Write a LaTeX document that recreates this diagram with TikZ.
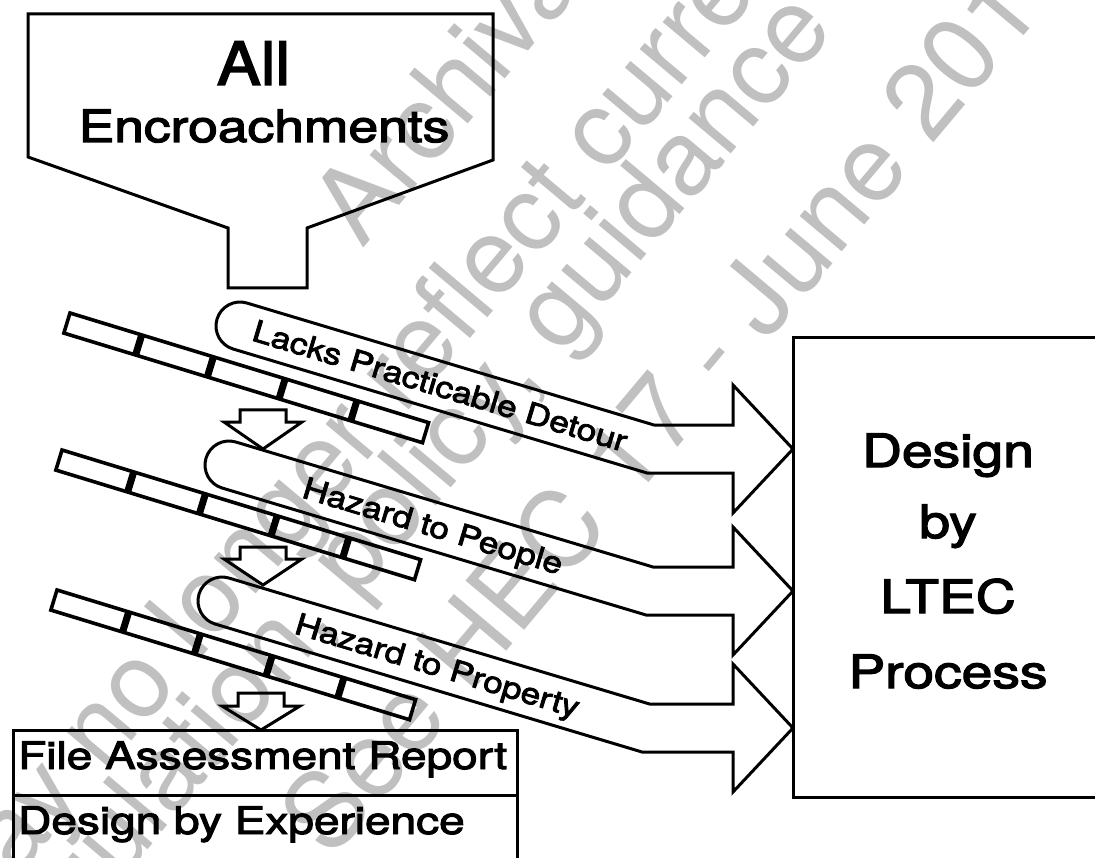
\documentclass[tikz,border=0pt]{standalone}
\usepackage{fontspec}
\setmainfont{TeX Gyre Heros}
\newfontfamily\heavyfont{TeX Gyre Heros}[FakeBold=2.5]
\usepackage{graphicx}
\definecolor{wm}{HTML}{C0C0C0}
\newcommand\myfs[1]{\fontsize{#1}{#1}\selectfont}
\begin{document}
\begin{tikzpicture}[x=1pt,y=-1pt,line join=miter,
  outline/.style={draw=black,line width=3pt},
  barbox/.style={draw=black,line width=3.6pt},
  bardiv/.style={draw=black,line width=7pt},
  lbl/.style={inner sep=0pt,text=black},
  bandlbl/.style={inner sep=0pt,anchor=base,rotate=-16.7,font=\heavyfont\myfs{30}},
  wmark/.style={text=wm,inner sep=0pt,anchor=base west,rotate=50,font=\myfs{105}}]
\path[use as bounding box] (0,0) rectangle (1095,858);
\clip (0,0) rectangle (1095,858);
\fill[white] (0,0) rectangle (1095,858);
% watermark
\node[wmark] (wm1) at (362,250) {Archival};
\node[wmark] (wm2) at (-40,946) {may no longer reflect current};
\node[wmark] (wm3) at (23,998) {regulation, policy, guidance or};
\node[wmark] (wm4) at (331,861) {See HEC 17 - June 2016};
% funnel
\draw[outline] (28,14) -- (493,14) -- (493,160) -- (307,228) -- (307,288) -- (228,288) -- (228,228) -- (28,157) -- cycle;
\node[lbl,anchor=base,font=\heavyfont\myfs{60}] (all) at (253.5,85) {\scalebox{1.1}[1]{All}};
\node[lbl,anchor=base,font=\heavyfont\myfs{44.5}] (enc) at (264,142) {\scalebox{1.2}[1]{Encroachments}};
% bars
\foreach \bx/\by in {70/313, 62/450, 57/590}{
  \begin{scope}[shift={(\bx,\by)},rotate=-17]
    \draw[barbox] (0,0) rectangle (375,21);
    \foreach \i in {75,150,225,300} \draw[bardiv] (\i,0) -- (\i,21);
  \end{scope}
}
% bands with arrows
\draw[outline] (647,473) -- (233.1,349) arc[start angle=106.7,end angle=286.7,radius=24] -- (654,425) -- (733,425) -- (733,385) -- (793,449) -- (733,513) -- (733,473) -- cycle;
\draw[outline] (646,615) -- (222.1,488) arc[start angle=106.7,end angle=286.7,radius=24] -- (653,567) -- (733,567) -- (733,527) -- (793,591) -- (733,655) -- (733,615) -- cycle;
\draw[outline] (642,752) -- (215.1,624) arc[start angle=106.7,end angle=286.7,radius=24] -- (649.5,704) -- (733,704) -- (733,664) -- (793,728) -- (733,792) -- (733,752) -- cycle;
\node[bandlbl] (t1) at (437,396) {\scalebox{1.17}[1]{Lacks Practicable Detour}};
\node[bandlbl] (t2) at (430,536) {\scalebox{1.17}[1]{Hazard to People}};
\node[bandlbl] (t3) at (434.5,675.6) {\scalebox{1.17}[1]{Hazard to Property}};
% small down arrows
\draw[outline] (240,410) -- (286,410) -- (286,422) -- (302,422) -- (263,449) -- (224,422) -- (240,422) -- cycle;
\draw[outline] (240,547) -- (286,547) -- (286,559) -- (302,559) -- (263,585) -- (224,559) -- (240,559) -- cycle;
\draw[outline] (238,693) -- (284,693) -- (284,706) -- (300,706) -- (261,730) -- (222,706) -- (238,706) -- cycle;
% design box
\draw[outline] (1100,338) -- (793,338) -- (793,797) -- (1100,797);
\node[lbl,anchor=base,font=\heavyfont\myfs{46}] (d1) at (948,467) {\scalebox{1.2}[1]{Design}};
\node[lbl,anchor=base,font=\heavyfont\myfs{46}] (d2) at (948,538) {\scalebox{1.2}[1]{by}};
\node[lbl,anchor=base,font=\heavyfont\myfs{46}] (d3) at (948,613) {\scalebox{1.2}[1]{LTEC}};
\node[lbl,anchor=base,font=\heavyfont\myfs{46}] (d4) at (948,688) {\scalebox{1.2}[1]{Process}};
% file box
\draw[outline] (13,870) -- (13,730) -- (517,730) -- (517,870);
\draw[outline] (13,795) -- (517,795);
\node[lbl,anchor=base west,font=\heavyfont\myfs{38}] (f1) at (18,769) {\scalebox{1.21}[1]{File Assessment Report}};
\node[lbl,anchor=base west,font=\heavyfont\myfs{38}] (f2) at (18,834) {\scalebox{1.21}[1]{Design by Experience}};
\end{tikzpicture}
\end{document}
